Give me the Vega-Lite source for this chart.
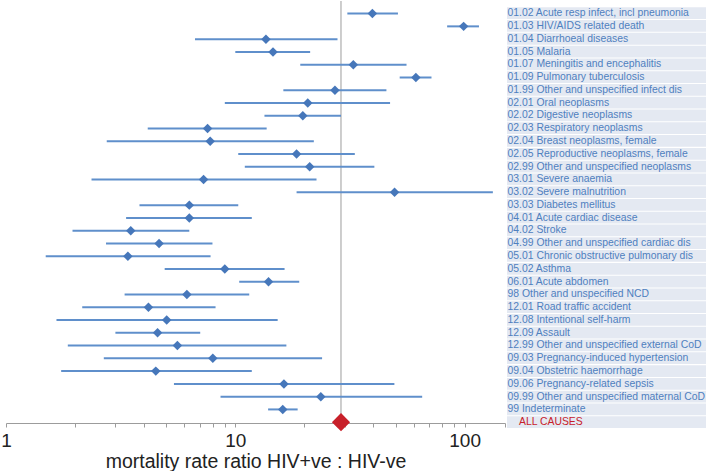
{
  "$schema": "https://vega.github.io/schema/vega-lite/v6.json",
  "padding": {"left": 0, "top": 0, "right": 0, "bottom": 0},
  "background": "white",
  "config": {"view": {"stroke": null}, "font": "Liberation Sans"},
  "data": {"values": [
    {"name": "01.02 Acute resp infect, incl pneumonia", "est": 39.6, "lo": 30.8, "hi": 51.2},
    {"name": "01.03 HIV/AIDS related death", "est": 99.0, "lo": 83.9, "hi": 115.5},
    {"name": "01.04 Diarrhoeal diseases", "est": 13.6, "lo": 6.67, "hi": 27.9},
    {"name": "01.05 Malaria", "est": 14.6, "lo": 10.0, "hi": 21.2},
    {"name": "01.07 Meningitis and encephalitis", "est": 32.7, "lo": 19.2, "hi": 55.8},
    {"name": "01.09 Pulmonary tuberculosis", "est": 61.3, "lo": 52.1, "hi": 71.7},
    {"name": "01.99 Other and unspecified infect dis", "est": 27.2, "lo": 16.2, "hi": 45.6},
    {"name": "02.01 Oral neoplasms", "est": 20.7, "lo": 9.0, "hi": 47.3},
    {"name": "02.02 Digestive neoplasms", "est": 19.7, "lo": 13.4, "hi": 28.9},
    {"name": "02.03 Respiratory neoplasms", "est": 7.57, "lo": 4.15, "hi": 13.7},
    {"name": "02.04 Breast neoplasms, female", "est": 7.77, "lo": 2.75, "hi": 22.0},
    {"name": "02.05 Reproductive neoplasms, female", "est": 18.5, "lo": 10.3, "hi": 33.2},
    {"name": "02.99 Other and unspecified neoplasms", "est": 21.1, "lo": 11.0, "hi": 40.4},
    {"name": "03.01 Severe anaemia", "est": 7.27, "lo": 2.36, "hi": 22.6},
    {"name": "03.02 Severe malnutrition", "est": 49.5, "lo": 18.5, "hi": 132.8},
    {"name": "03.03 Diabetes mellitus", "est": 6.30, "lo": 3.82, "hi": 10.3},
    {"name": "04.01 Acute cardiac disease", "est": 6.30, "lo": 3.34, "hi": 11.8},
    {"name": "04.02 Stroke", "est": 3.50, "lo": 1.95, "hi": 6.30},
    {"name": "04.99 Other and unspecified cardiac dis", "est": 4.65, "lo": 2.73, "hi": 7.95},
    {"name": "05.01 Chronic obstructive pulmonary dis", "est": 3.40, "lo": 1.49, "hi": 7.80},
    {"name": "05.02 Asthma", "est": 9.0, "lo": 4.92, "hi": 16.4},
    {"name": "06.01 Acute abdomen", "est": 13.96, "lo": 10.4, "hi": 19.0},
    {"name": "98 Other and unspecified NCD", "est": 6.15, "lo": 3.29, "hi": 11.5},
    {"name": "12.01 Road traffic accident", "est": 4.18, "lo": 2.15, "hi": 8.20},
    {"name": "12.08 Intentional self-harm", "est": 5.02, "lo": 1.66, "hi": 15.3},
    {"name": "12.09 Assault", "est": 4.58, "lo": 3.0, "hi": 7.03},
    {"name": "12.99 Other and unspecified external CoD", "est": 5.59, "lo": 1.86, "hi": 16.7},
    {"name": "09.03 Pregnancy-induced hypertension", "est": 7.98, "lo": 2.67, "hi": 23.9},
    {"name": "09.04 Obstetric haemorrhage", "est": 4.50, "lo": 1.74, "hi": 11.8},
    {"name": "09.06 Pregnancy-related sepsis", "est": 16.3, "lo": 5.40, "hi": 49.4},
    {"name": "09.99 Other and unspecified maternal CoD", "est": 23.6, "lo": 8.62, "hi": 65.3},
    {"name": "99 Indeterminate", "est": 16.1, "lo": 13.9, "hi": 18.7},
    {"name": "ALL CAUSES", "est": 28.9, "lo": null, "hi": null}
  ]},
  "spacing": 1,
  "hconcat": [
    {
      "width": 499,
      "height": 422,
      "encoding": {
        "y": {"field": "name", "type": "nominal", "sort": null, "axis": null,
              "scale": {"type": "point", "padding": 0.525, "align": 0.94}}
      },
      "layer": [
        {
          "transform": [{"filter": "datum.name == 'ALL CAUSES'"}],
          "mark": {"type": "rule", "color": "#9c9c9c", "strokeWidth": 1},
          "encoding": {
            "y": null,
            "x": {"field": "est", "type": "quantitative",
                  "scale": {"type": "log", "domain": [1, 150], "nice": false, "zero": false},
                  "axis": {
                    "title": "mortality rate ratio HIV+ve : HIV-ve",
                    "values": [1, 2, 3, 4, 5, 6, 7, 8, 9, 10, 20, 30, 40, 50, 60, 70, 80, 90, 100, 150],
                    "labelExpr": "datum.value == 1 || datum.value == 10 || datum.value == 100 ? format(datum.value, 'd') : ''",
                    "labelFontSize": 19, "labelColor": "#222222", "labelPadding": 4,
                    "labelOverlap": false, "labelFlush": false,
                    "tickSize": 4, "tickColor": "#9c9c9c", "domainColor": "#9c9c9c",
                    "grid": false,
                    "titleFontSize": 19.5, "titleFontWeight": "normal", "titleColor": "#222222", "titlePadding": 2
                  }}
          }
        },
        {
          "transform": [{"filter": "isValid(datum.lo)"}],
          "mark": {"type": "rule", "color": "#5f8fcb", "strokeWidth": 2},
          "encoding": {
            "x": {"field": "lo", "type": "quantitative"},
            "x2": {"field": "hi"}
          }
        },
        {
          "transform": [{"filter": "datum.name != 'ALL CAUSES'"}],
          "mark": {"type": "point", "shape": "diamond", "filled": true, "size": 90, "color": "#4677ba", "opacity": 1},
          "encoding": {
            "x": {"field": "est", "type": "quantitative"}
          }
        },
        {
          "transform": [{"filter": "datum.name == 'ALL CAUSES'"}],
          "mark": {"type": "point", "shape": "diamond", "filled": true, "size": 330, "color": "#c8202a", "opacity": 1},
          "encoding": {
            "x": {"field": "est", "type": "quantitative"}
          }
        }
      ]
    },
    {
      "width": 201,
      "height": 427,
      "encoding": {
        "y": {"field": "name", "type": "nominal", "sort": null, "axis": null,
              "scale": {"type": "band", "paddingInner": 0.08, "paddingOuter": 0.247, "align": 1}}
      },
      "layer": [
        {
          "mark": {"type": "bar", "color": "#e4e9f2"}
        },
        {
          "transform": [{"filter": "datum.name != 'ALL CAUSES'"}],
          "mark": {"type": "text", "align": "left", "baseline": "middle", "dx": 0.5, "fontSize": 10.4, "color": "#4f80bf"},
          "encoding": {
            "x": {"datum": 0, "type": "quantitative", "scale": {"domain": [0, 1]}, "axis": null},
            "text": {"field": "name"}
          }
        },
        {
          "transform": [{"filter": "datum.name == 'ALL CAUSES'"}],
          "mark": {"type": "text", "align": "left", "baseline": "middle", "dx": 12, "fontSize": 10.4, "color": "#c8202a"},
          "encoding": {
            "x": {"datum": 0, "type": "quantitative", "scale": {"domain": [0, 1]}, "axis": null},
            "text": {"field": "name"}
          }
        }
      ]
    }
  ]
}
